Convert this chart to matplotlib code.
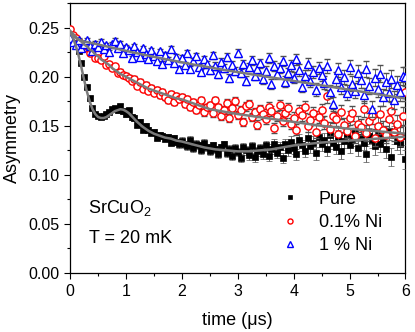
import matplotlib
matplotlib.use("Agg")
import matplotlib.pyplot as plt
from matplotlib.ticker import MultipleLocator
import numpy as np

plt.rcParams["font.family"] = ["Liberation Sans", "DejaVu Sans"]
plt.rcParams["mathtext.fontset"] = "custom"
plt.rcParams["mathtext.rm"] = "Liberation Sans"
plt.rcParams["mathtext.it"] = "Liberation Sans:italic"

# ---------------------------------------------------------------------------
# Data: muSR asymmetry of SrCuO2 at 20 mK, time bins of 0.05 us (0 .. 6 us)
# ---------------------------------------------------------------------------
TIME = np.arange(121) * 0.05

PURE = [
    .238, .236, .233, .226, .214, .200, .190, .178, .168, .162,
    .160, .159, .160, .162, .164, .167, .168, .166, .170, .165,
    .162, .166, .159, .158, .151, .154, .146, .150, .146, .143,
    .144, .138, .141, .140, .137, .139, .133, .138, .134, .131,
    .135, .131, .129, .136, .127, .132, .130, .125, .133, .128,
    .124, .130, .126, .121, .128, .131, .122, .126, .119, .127,
    .123, .117, .128, .125, .120, .129, .118, .124, .127, .121,
    .130, .119, .126, .132, .122, .128, .117, .131, .125, .134,
    .127, .121, .136, .130, .124, .138, .129, .133, .122, .139,
    .131, .136, .126, .141, .133, .128, .139, .124, .135, .142,
    .130, .137, .144, .127, .139, .133, .121, .140, .136, .129,
    .143, .132, .138, .126, .145, .118, .141, .135, .131, .140,
    .116,
]

NI01 = [
    .249, .243, .240, .236, .233, .229, .231, .224, .227, .219,
    .219, .217, .221, .212, .213, .209, .211, .204, .205, .202,
    .201, .199, .196, .198, .191, .195, .188, .192, .186, .189,
    .184, .187, .181, .185, .179, .176, .183, .174, .180, .177,
    .179, .172, .177, .169, .174, .166, .171, .176, .164, .169,
    .171, .163, .176, .169, .160, .166, .173, .158, .168, .175,
    .161, .166, .154, .170, .172, .159, .164, .151, .167, .162,
    .157, .169, .165, .148, .160, .171, .155, .163, .168, .152,
    .158, .146, .165, .161, .169, .150, .156, .163, .144, .159,
    .166, .153, .180, .147, .160, .157, .142, .164, .151, .145,
    .158, .163, .140, .152, .149, .167, .143, .155, .160, .138,
    .150, .162, .146, .141, .157, .165, .144, .152, .139, .160,
    .185,
]

NI1 = [
    .240, .236, .232, .238, .229, .233, .238, .231, .226, .234,
    .230, .236, .228, .232, .225, .233, .237, .229, .234, .224,
    .230, .227, .219, .231, .225, .220, .229, .223, .218, .227,
    .221, .216, .226, .213, .222, .217, .228, .214, .220, .208,
    .219, .212, .224, .208, .216, .221, .210, .205, .218, .213,
    .207, .222, .211, .203, .215, .209, .220, .199, .212, .206,
    .224, .204, .213, .196, .210, .217, .201, .208, .214, .198,
    .206, .219, .193, .211, .203, .209, .216, .195, .204, .212,
    .199, .218, .207, .190, .201, .213, .196, .205, .187, .209,
    .202, .194, .211, .185, .172, .198, .207, .190, .200, .184,
    .210, .193, .186, .204, .197, .181, .208, .191, .167, .199,
    .188, .203, .179, .195, .184, .198, .176, .192, .185, .201,
    .200,
]

# statistical error (same binning for all three samples)
ERR = [
    .0020, .0020, .0020, .0021, .0021, .0021, .0021, .0022, .0022, .0022,
    .0022, .0023, .0023, .0023, .0023, .0024, .0024, .0024, .0025, .0025,
    .0025, .0025, .0026, .0026, .0026, .0027, .0027, .0027, .0027, .0028,
    .0028, .0028, .0029, .0029, .0029, .0030, .0030, .0030, .0031, .0031,
    .0032, .0032, .0032, .0033, .0033, .0033, .0034, .0034, .0035, .0035,
    .0036, .0037, .0037, .0038, .0038, .0039, .0040, .0040, .0041, .0041,
    .0042, .0043, .0043, .0044, .0045, .0045, .0046, .0047, .0047, .0048,
    .0049, .0050, .0050, .0051, .0052, .0053, .0053, .0054, .0055, .0056,
    .0057, .0058, .0058, .0059, .0060, .0061, .0062, .0063, .0064, .0065,
    .0066, .0067, .0068, .0069, .0070, .0071, .0072, .0073, .0074, .0075,
    .0076, .0077, .0078, .0079, .0080, .0081, .0082, .0083, .0084, .0085,
    .0086, .0087, .0088, .0089, .0090, .0091, .0092, .0093, .0094, .0095,
    .0096,
]

# fit curves: 0.05 us steps up to 1.2 us, then 0.1 us steps up to 6 us
FIT_T = np.concatenate([np.arange(25) * 0.05, 1.3 + np.arange(48) * 0.1])

FIT_PURE = [
    .245, .240, .232, .222, .210, .197, .185, .175, .167, .162,
    .159, .158, .158, .159, .161, .163, .165, .166, .167, .1665,
    .165, .163, .160, .157, .154,
    .149, .145, .142, .140, .138, .137, .135, .134, .1325, .131,
    .1295, .128, .127, .126, .1255, .125, .1245, .124, .124, .124,
    .1245, .125, .1255, .126, .127, .128, .129, .130, .1306, .1312,
    .1318, .1324, .133, .1334, .1338, .1342, .1346, .135, .1354, .1358,
    .1362, .1366, .137, .1374, .1378, .1382, .1386, .139,
]

FIT_NI01 = [
    .247, .244, .241, .238, .236, .233, .231, .228, .226, .223,
    .221, .218, .216, .214, .212, .209, .207, .205, .203, .2015,
    .200, .1985, .197, .1955, .194,
    .191, .188, .186, .184, .182, .180, .178, .177, .175, .173,
    .171, .169, .167, .166, .165, .164, .163, .162, .1612, .1604,
    .1596, .1588, .158, .1572, .1564, .1556, .1548, .154, .1532, .1524,
    .1516, .1508, .150, .1494, .1488, .1482, .1476, .147, .1465, .146,
    .1455, .145, .1445, .144, .1435, .143, .1425, .142,
]

FIT_NI1 = [
    .245, .242, .240, .238, .237, .236, .2355, .2349, .2343, .2337,
    .2330, .2324, .2317, .2311, .2304, .2298, .2291, .2285, .2278, .2272,
    .2265, .2259, .2252, .2246, .2240,
    .2228, .2216, .2204, .2192, .2181, .2170, .2159, .2148, .2137, .2126,
    .2116, .2106, .2096, .2086, .2076, .2066, .2057, .2048, .2039, .2030,
    .2021, .2012, .2003, .1994, .1985, .1976, .1967, .1958, .1949, .1940,
    .1931, .1922, .1913, .1904, .1895, .1886, .1877, .1868, .1859, .1850,
    .1841, .1832, .1823, .1814, .1805, .1796, .1787, .1778,
]

# ---------------------------------------------------------------------------
# Figure
# ---------------------------------------------------------------------------
fig = plt.figure(figsize=(4.15, 3.32), dpi=100)
ax = fig.add_axes([0.169, 0.178, 0.808, 0.812])

ebar = dict(ecolor="#505050", elinewidth=0.6, capsize=2.2, capthick=0.6, ls="none")

c_pure = ax.errorbar(TIME, PURE, yerr=ERR, fmt="s", ms=4.2, mfc="black", mec="black",
                     mew=0.5, label="Pure", zorder=3, **ebar)
c_ni01 = ax.errorbar(TIME, NI01, yerr=ERR, fmt="o", ms=5.2, mfc="white", mec="red",
                     mew=1.0, label="0.1% Ni", zorder=4, **ebar)
c_ni1 = ax.errorbar(TIME, NI1, yerr=ERR, fmt="^", ms=5.6, mfc="white", mec="blue",
                    mew=1.0, label="1 % Ni", zorder=5, **ebar)

for fit in (FIT_PURE, FIT_NI01, FIT_NI1):
    ax.plot(FIT_T, fit, color="#7a7a7a", lw=1.8, zorder=6)

ax.set_xlim(0, 6)
ax.set_ylim(0, 0.275)
ax.xaxis.set_major_locator(MultipleLocator(1))
ax.xaxis.set_minor_locator(MultipleLocator(0.5))
ax.yaxis.set_major_locator(MultipleLocator(0.05))
ax.yaxis.set_minor_locator(MultipleLocator(0.025))
ax.yaxis.set_major_formatter(matplotlib.ticker.FormatStrFormatter("%.2f"))
ax.tick_params(which="both", direction="out", labelsize=11.5, width=0.8,
               top=False, right=False)
ax.tick_params(which="major", length=4.5)
ax.tick_params(which="minor", length=2.5)
for s in ax.spines.values():
    s.set_linewidth(0.9)

ax.set_xlabel("time (\u03bcs)", fontsize=13, labelpad=9)
ax.set_ylabel("Asymmetry", fontsize=13, labelpad=5)

ax.text(0.32, 0.061, "SrCuO$_2$", fontsize=13, va="baseline")
ax.text(0.34, 0.031, "T = 20 mK", fontsize=13, va="baseline")

handles = [c_pure[0], c_ni01[0], c_ni1[0]]
ax.legend(handles, ["Pure", "0.1% Ni", "1 % Ni"],
          loc="upper left", bbox_to_anchor=(0.629, 0.305), frameon=False,
          fontsize=13, markerscale=0.7, handlelength=1.0, handletextpad=1.1,
          borderpad=0, borderaxespad=0, labelspacing=0.35, numpoints=1)

fig.savefig("out.png", dpi=100)
